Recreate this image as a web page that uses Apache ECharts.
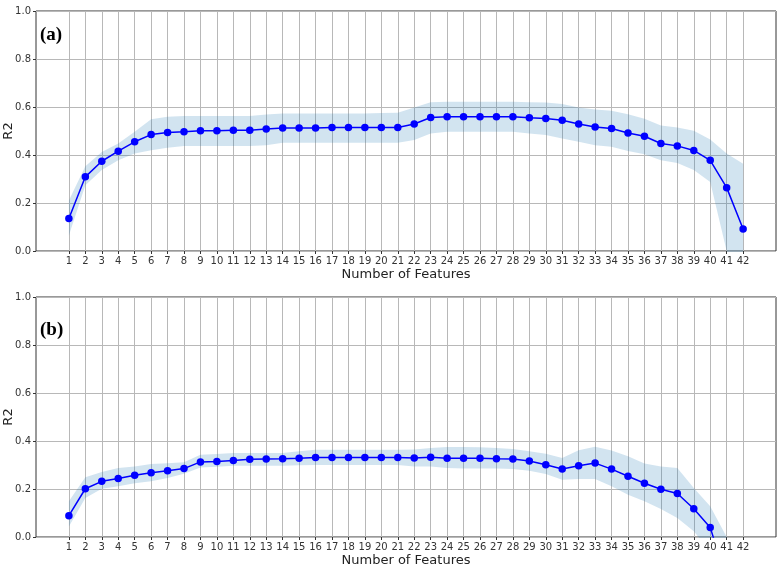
<!DOCTYPE html>
<html>
<head>
<meta charset="utf-8">
<script src="https://cdn.jsdelivr.net/npm/echarts@6/dist/echarts.min.js"></script>
<style>
  html, body { margin: 0; padding: 0; background: #fff; }
  #chart { width: 779px; height: 571px; }
</style>
</head>
<body>
<div id="chart"></div>
<script>
// feature counts 1..42, axis padded by one slot each side plus a bit
var features = [];
for (var n = 1; n <= 42; n++) features.push(n);
var axisCats = ["-1", "0"].concat(features.map(String), ["43", "44"]);
var yTicks = [0, 0.2, 0.4, 0.6, 0.8, 1.0];

// panel (a)
var meanA = [0.135, 0.309, 0.374, 0.416, 0.455, 0.485, 0.494, 0.497, 0.501, 0.501,
  0.503, 0.503, 0.508, 0.512, 0.512, 0.512, 0.515, 0.515, 0.515, 0.515,
  0.515, 0.529, 0.556, 0.559, 0.559, 0.559, 0.559, 0.559, 0.555, 0.552,
  0.545, 0.529, 0.517, 0.510, 0.492, 0.478, 0.448, 0.438, 0.419, 0.378,
  0.264, 0.092];
var upperA = [0.21, 0.353, 0.413, 0.448, 0.497, 0.549, 0.559, 0.563, 0.563, 0.563,
  0.563, 0.563, 0.569, 0.573, 0.573, 0.573, 0.573, 0.573, 0.573, 0.575,
  0.576, 0.598, 0.620, 0.622, 0.622, 0.622, 0.622, 0.622, 0.620, 0.619,
  0.612, 0.598, 0.590, 0.584, 0.570, 0.551, 0.523, 0.515, 0.501, 0.465,
  0.406, 0.364];
var lowerA = [0.065, 0.274, 0.337, 0.378, 0.406, 0.420, 0.430, 0.437, 0.437, 0.437,
  0.437, 0.437, 0.441, 0.451, 0.451, 0.451, 0.451, 0.451, 0.451, 0.451,
  0.451, 0.462, 0.490, 0.497, 0.497, 0.497, 0.497, 0.497, 0.490, 0.483,
  0.469, 0.455, 0.441, 0.434, 0.417, 0.403, 0.378, 0.367, 0.337, 0.288,
  0.0, -0.18];

// panel (b)
var meanB = [0.089, 0.201, 0.232, 0.244, 0.257, 0.268, 0.276, 0.285, 0.313, 0.315,
  0.319, 0.324, 0.325, 0.326, 0.328, 0.331, 0.331, 0.331, 0.331, 0.331,
  0.331, 0.329, 0.332, 0.328, 0.328, 0.328, 0.326, 0.325, 0.317, 0.301,
  0.283, 0.297, 0.308, 0.283, 0.253, 0.224, 0.199, 0.181, 0.118, 0.040,
  -0.18, -0.45];
var upperB = [0.149, 0.249, 0.271, 0.287, 0.294, 0.304, 0.307, 0.311, 0.343, 0.346,
  0.350, 0.350, 0.350, 0.350, 0.357, 0.364, 0.364, 0.364, 0.364, 0.364,
  0.364, 0.365, 0.371, 0.375, 0.375, 0.374, 0.371, 0.367, 0.357, 0.347,
  0.329, 0.361, 0.376, 0.360, 0.336, 0.306, 0.294, 0.288, 0.204, 0.128,
  0.0, -0.25];
var lowerB = [0.044, 0.163, 0.201, 0.211, 0.224, 0.232, 0.246, 0.264, 0.290, 0.293,
  0.297, 0.297, 0.297, 0.297, 0.299, 0.300, 0.300, 0.300, 0.300, 0.300,
  0.300, 0.294, 0.294, 0.288, 0.285, 0.285, 0.285, 0.283, 0.276, 0.263,
  0.239, 0.242, 0.242, 0.211, 0.176, 0.149, 0.117, 0.079, 0.024, -0.06,
  -0.36, -0.65];

var fnt = "DejaVu Sans";
var showIdx = function (i) { return i >= 2 && i <= 43; };

function pairs(vals) {
  return features.map(function (f, i) { return [String(f), vals[i]]; });
}
function diffs(up, lo) {
  return features.map(function (f, i) { return [String(f), +(up[i] - lo[i]).toFixed(3)]; });
}

function xAx(gi) {
  return {
    type: "category", gridIndex: gi, data: axisCats, boundaryGap: false,
    name: "Number of Features", nameLocation: "middle", nameGap: 17,
    nameTextStyle: { fontFamily: fnt, fontSize: 13, color: "#222" },
    axisLine: { show: false },
    axisTick: { show: true, length: 3, interval: showIdx, lineStyle: { color: "#333" } },
    axisLabel: { interval: showIdx, fontFamily: fnt, fontSize: 10, color: "#333", margin: 5 },
    splitLine: { show: true, interval: showIdx, lineStyle: { color: "#b8b8b8", width: 1 } }
  };
}
function yAx(gi) {
  return {
    type: "value", gridIndex: gi, min: 0, max: 1, interval: 0.2,
    name: "R2", nameLocation: "middle", nameGap: 21, nameMoveOverlap: false,
    nameTextStyle: { fontFamily: fnt, fontSize: 13, color: "#222" },
    axisLine: { show: false },
    axisTick: { show: true, length: 3, lineStyle: { color: "#333" } },
    axisLabel: { fontFamily: fnt, fontSize: 10, color: "#333", margin: 5,
      formatter: function (v) { return v.toFixed(1); } },
    splitLine: { show: true, lineStyle: { color: "#b8b8b8", width: 1 } }
  };
}
function panel(gi, mean, up, lo) {
  var st = "band" + gi;
  return [
    { type: "line", xAxisIndex: gi, yAxisIndex: gi, stack: st, stackStrategy: "all",
      data: pairs(lo), symbol: "none", lineStyle: { opacity: 0 }, silent: true },
    { type: "line", xAxisIndex: gi, yAxisIndex: gi, stack: st, stackStrategy: "all",
      data: diffs(up, lo), symbol: "none", lineStyle: { opacity: 0 },
      areaStyle: { color: "rgba(31,119,180,0.2)", opacity: 1 }, silent: true },
    { type: "line", xAxisIndex: gi, yAxisIndex: gi, data: pairs(mean),
      symbol: "circle", symbolSize: 7.5, color: "#0000ff",
      lineStyle: { color: "#0000ff", width: 1.5 },
      itemStyle: { color: "#0000ff" } }
  ];
}

var chart = echarts.init(document.getElementById("chart"));
chart.setOption({
  animation: false,
  grid: [
    { left: 36, right: 3, top: 11, height: 240, show: true, borderColor: "#333", borderWidth: 1,
      containLabel: false, outerBoundsMode: "none" },
    { left: 36, right: 3, top: 297, height: 240, show: true, borderColor: "#333", borderWidth: 1,
      containLabel: false, outerBoundsMode: "none" }
  ],
  xAxis: [xAx(0), xAx(1)],
  yAxis: [yAx(0), yAx(1)],
  series: panel(0, meanA, upperA, lowerA).concat(panel(1, meanB, upperB, lowerB)),
  graphic: [
    { type: "text", left: 40, top: 26, style: { text: "(a)", font: "bold 19px 'Liberation Serif'", fill: "#000" } },
    { type: "text", left: 40, top: 321, style: { text: "(b)", font: "bold 19px 'Liberation Serif'", fill: "#000" } }
  ]
});
</script>
</body>
</html>
